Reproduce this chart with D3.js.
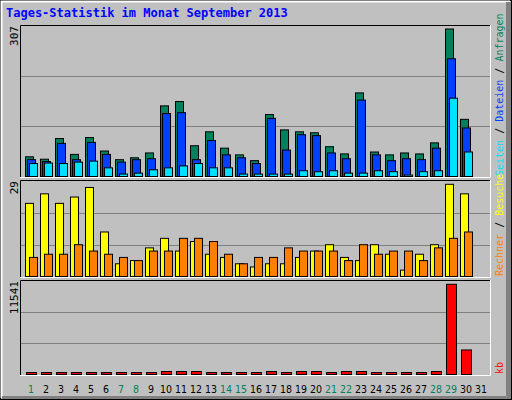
<!DOCTYPE html>
<html><head><meta charset="utf-8">
<script src="https://cdn.jsdelivr.net/npm/d3@7"></script>
<style>body{margin:0;background:#fff}svg{display:block}</style>
</head><body><svg id="c" width="512" height="400"></svg>
<script>
const days = d3.range(1, 32);
const weekend = [1,7,8,14,15,21,22,28,29];
const hits  = [41,36,79,46,81,53,35,39,49,147,156,64,93,59,45,33,129,97,93,91,62,47,174,51,45,49,47,70,307,119,0];
const files = [35,31,69,35,71,46,30,35,37,131,133,35,75,45,39,27,121,55,87,85,49,37,159,45,33,37,35,59,245,101,0];
const pages = [27,28,27,30,32,18,5,7,14,18,22,27,18,18,5,5,5,5,12,10,12,7,7,12,10,3,10,12,163,51,0];
const visits = [23,26,23,25,28,14,4,5,9,12,8,11,7,6,4,3,4,4,6,8,10,6,5,10,7,2,7,10,29,26,0];
const sites  = [6,7,7,10,8,7,6,5,8,8,12,12,11,7,4,6,6,9,8,8,8,5,10,7,8,8,5,9,12,14,0];
const kbytes = [250,250,250,250,250,250,250,250,250,380,380,380,250,250,250,250,380,250,380,380,250,380,380,250,250,250,250,380,11541,3140,0];

const svg = d3.select("#c");
const C = {hits:"#00805C", files:"#0040FF", pages:"#00E0FF", visits:"#FFFF00", sites:"#FF8000", kb:"#FF0000"};
svg.append("rect").attr("x",0).attr("y",0).attr("width",512).attr("height",400).attr("fill","#C0C0C0");
svg.append("rect").attr("x",0.5).attr("y",0.5).attr("width",511).attr("height",399).attr("fill","none").attr("stroke","#000");
svg.append("path").attr("d","M1.5,398V1.5H510").attr("stroke","#fff").attr("stroke-width",2).attr("fill","none");
svg.append("path").attr("d","M2,396.5H506.5V2").attr("stroke","#808080").attr("stroke-width",1).attr("fill","none");
svg.append("rect").attr("x",507).attr("y",2).attr("width",4).attr("height",397).attr("fill","#808080");
svg.append("rect").attr("x",2).attr("y",397).attr("width",509).attr("height",2).attr("fill","#808080");

svg.append("text").attr("x",6).attr("y",17).text("Tages-Statistik im Monat September 2013")
  .attr("font-family","DejaVu Sans Mono").attr("font-weight","bold").attr("font-size",12).attr("fill","#0000FF");

const x = d3.scaleLinear().domain([1,31]).range([25,475]);
const L = 20, R = 490;
const FONT = "DejaVu Sans Mono";

function panel(top, bottom, maxTop, max, label, series, right){
  svg.append("path").attr("d",`M${L+0.5},${bottom}V${top+0.5}H${R}`).attr("stroke","#000").attr("fill","none");
  svg.append("path").attr("d",`M${L},${bottom+0.5}H${R+0.5}V${top}`).attr("stroke","#fff").attr("fill","none");
  const y = d3.scaleLinear().domain([0,max]).range([bottom-0.5, maxTop]);
  const gy = d3.scaleLinear().domain([0,3]).range([bottom-0.5, top+0.5]);
  [1,2].forEach(k=>svg.append("line").attr("x1",L+1).attr("x2",R).attr("y1",Math.round(gy(k))+0.5).attr("y2",Math.round(gy(k))+0.5).attr("stroke","#808080").attr("stroke-width",1));
  series.forEach(s=>{
    svg.append("g").selectAll("rect").data(s.data).join("rect")
      .attr("x",(d,i)=>x(days[i])+s.off+0.5).attr("width",s.w)
      .attr("y",d=>y(d)).attr("height",d=>d>0?bottom-0.5-y(d):0)
      .attr("fill",s.color).attr("stroke","#000").attr("stroke-width",1)
      .attr("display",d=>d>0?null:"none");
  });
  svg.append("text").attr("transform",`translate(18,${top+1}) rotate(-90)`).attr("text-anchor","end")
    .attr("font-family",FONT).attr("font-size",11).attr("fill","#000").text(label);
  const t = svg.append("text").attr("transform",`translate(503,${bottom-1}) rotate(-90)`)
    .attr("font-family",FONT).attr("font-size",10);
  right.forEach((r,i)=>{
    if(i>0) t.append("tspan").attr("fill","#000").text(" / ");
    t.append("tspan").attr("fill",r[1]).text(r[0]);
  });
}
panel(25,177,29,307,"307",[
  {data:hits,color:C.hits,off:0,w:8},
  {data:files,color:C.files,off:2,w:8},
  {data:pages,color:C.pages,off:4,w:8}],
  [["Seiten",C.pages],["Dateien",C.files],["Anfragen",C.hits]]);
panel(180,277,184.3,29,"29",[
  {data:visits,color:C.visits,off:0,w:8},
  {data:sites,color:C.sites,off:4,w:8}],
  [["Rechner",C.sites],["Besuche",C.visits]]);
panel(280,375,284.3,11541,"11541",[
  {data:kbytes,color:C.kb,off:1,w:10}],
  [["kb",C.kb]]);

svg.append("g").selectAll("text").data(days).join("text")
  .attr("x",d=>x(d)+6).attr("y",393).attr("text-anchor","middle")
  .attr("font-family","DejaVu Sans Condensed, DejaVu Sans").attr("font-stretch","condensed").attr("font-size",10.5)
  .attr("fill",d=>weekend.includes(d)?"#00805C":"#000").text(d=>d);
</script></body></html>
